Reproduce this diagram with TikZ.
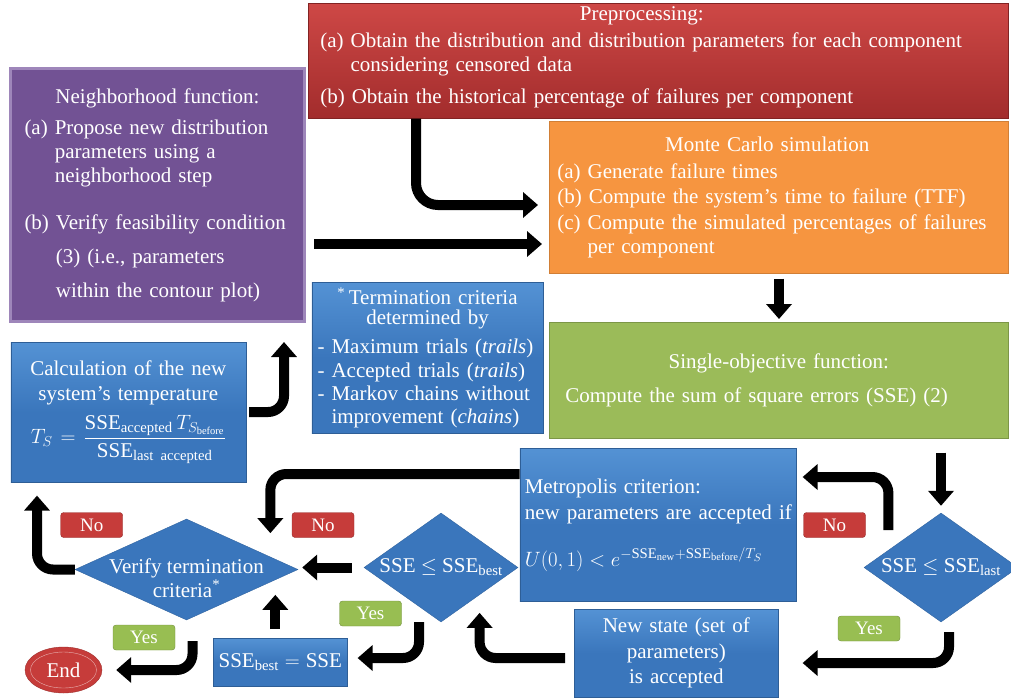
\documentclass[tikz,border=0pt]{standalone}
\usepackage{amsmath}
\usepackage{fontspec}
\setmainfont{Liberation Serif}
\usetikzlibrary{positioning, arrows.meta, shapes.geometric}
\definecolor{preRedTop}{RGB}{206,72,70}
\definecolor{preRedBot}{RGB}{162,44,44}
\definecolor{nbPurple}{RGB}{114,82,148}
\definecolor{nbPurpleEdge}{RGB}{158,134,186}
\definecolor{mcOrange}{RGB}{246,149,64}
\definecolor{objGreen}{RGB}{155,187,89}
\definecolor{stepBlue}{RGB}{58,118,188}
\definecolor{stepBlueTop}{RGB}{84,146,212}
\definecolor{noRed}{RGB}{198,60,58}
\definecolor{yesGreen}{RGB}{152,190,82}
\newcommand{\bodyfont}{\fontsize{21}{23.5}\selectfont}
\newcommand{\tagfont}{\fontsize{19}{21}\selectfont}
\tikzset{%
	stage/.style = {anchor = north west, text = white, align = left, inner ysep = 0pt, font = \bodyfont},
	prebox/.style = {stage, top color = preRedTop, bottom color = preRedBot, draw = preRedBot!80!black, line width = 0.6pt},
	nbbox/.style = {stage, fill = nbPurple, draw = nbPurpleEdge, line width = 3pt},
	mcbox/.style = {stage, fill = mcOrange, draw = mcOrange!85!black, line width = 0.6pt},
	objbox/.style = {stage, fill = objGreen, draw = objGreen!80!black, line width = 0.6pt},
	bluebox/.style = {stage, top color = stepBlueTop, bottom color = stepBlue, middle color = stepBlue, draw = stepBlue!80!black, line width = 0.6pt},
	dia/.style = {diamond, fill = stepBlue, draw = stepBlue!85!black, text = white, align = center, font = \bodyfont, inner xsep = -45pt, inner ysep = -25pt},
	tag/.style = {rounded corners = 3pt, minimum width = 62pt, minimum height = 25pt, inner sep = 0pt, text = white, font = \tagfont},
	notag/.style = {tag, fill = noRed, draw = noRed!75!black},
	yestag/.style = {tag, fill = yesGreen, draw = yesGreen!75!black},
	flow/.style = {line width = 10pt, rounded corners = 16pt, -{Triangle[length = 15pt, width = 25pt]}}
}

\begin{document}
\begin{tikzpicture}[x = 1pt, y = -1pt]
	\useasboundingbox (0,0) rectangle (1011,699);
	% boxes
	\node [prebox, minimum width = 700pt, minimum height = 115pt, text width = 676pt, inner xsep = 12pt] (pre) at (308,3) {\makebox[643pt]{Preprocessing:}\\[3.5pt]
		(a) Obtain the distribution and distribution parameters for each component\\
		\phantom{(a) }considering censored data\\[8.5pt]
		(b) Obtain the historical percentage of failures per component\rule[-12pt]{0pt}{0pt}};
	\node [nbbox, minimum width = 294pt, minimum height = 253pt, text width = 266pt, inner xsep = 14pt] (neigh) at (9,67) {\makebox[\linewidth]{Neighborhood function:}\\[8pt]
		(a) Propose new distribution\\
		\phantom{(a) }parameters using a\\[1pt]
		\phantom{(a) }neighborhood step\\[23pt]
		(b) Verify feasibility condition\\[11pt]
		\phantom{(b) }(3) (i.e., parameters\\[10pt]
		\phantom{(b) }within the contour plot)};
	\node [mcbox, minimum width = 459pt, minimum height = 152pt, text width = 443pt, inner xsep = 8pt] (mc) at (549,121) {\makebox[420pt]{Monte Carlo simulation}\\[3.5pt]
		(a) Generate failure times\\[1.5pt]
		(b) Compute the system’s time to failure (TTF)\\[2.5pt]
		(c) Compute the simulated percentages of failures\\[0.5pt]
		\phantom{(c) }per component};
	\node [bluebox, minimum width = 231.5pt, minimum height = 151pt, text width = 220pt, inner xsep = 5.75pt] (crit) at (311.5,282) {\makebox[\linewidth]{\textsuperscript{*}\,Termination criteria}\\[-3.5pt]
		\makebox[\linewidth]{determined by}\\[5.5pt]
		- Maximum trials (\textit{trails})\\
		- Accepted trials (\textit{trails})\\
		- Markov chains without\\[-1pt]
		\phantom{- }improvement (\textit{chains})};
	\node [objbox, minimum width = 459pt, minimum height = 116pt, text width = 427pt, inner xsep = 16pt] (obj) at (549,322) {\makebox[\linewidth]{Single-objective function:}\\[10.5pt]
		Compute the sum of square errors (SSE) (2)};
	\node [bluebox, align = center, minimum width = 235pt, minimum height = 140pt, text width = 227pt, inner xsep = 4pt] (calc) at (10.5,342) {Calculation of the new\\[1.5pt]
		system’s temperature\\[9pt]
		$\displaystyle T_S = \frac{\text{SSE}_{\text{accepted}}\,T_{S_{\text{before}}}}{\text{SSE}_{\text{last accepted}}}$};
	\node [bluebox, minimum width = 276.5pt, minimum height = 153pt, text width = 266.5pt, inner xsep = 5pt] (metro) at (519.5,448) {Metropolis criterion:\\[2.5pt]
		\mbox{new parameters are accepted if}\\[23.5pt]
		$U(0,1) < e^{-\text{SSE}_{\text{new}}+\text{SSE}_{\text{before}}/T_S}$};
	\node [bluebox, align = center, minimum width = 204pt, minimum height = 88pt, text width = 196pt, inner xsep = 4pt] (newst) at (574,609) {New state (set of\\[2.5pt]
		parameters)\\[1.5pt]
		is accepted};
	\node [bluebox, align = center, minimum width = 134pt, minimum height = 48pt, text width = 126pt, inner xsep = 4pt] (best) at (213,638) {$\text{SSE}_{\text{best}} = \text{SSE}$};
	% decisions
	\node [dia, minimum width = 223pt, minimum height = 101pt] (verD) at (186.5,569.5) {\rule{0pt}{32pt}Verify termination\\criteria\textsuperscript{*}};
	\node [dia, minimum width = 154pt, minimum height = 109pt] (bestD) at (441,567.5) {SSE $\leq$ SSE$_{\text{best}}$};
	\node [dia, minimum width = 154pt, minimum height = 109pt] (lastD) at (941,567.5) {SSE $\leq$ SSE$_{\text{last}}$};
	\node [ellipse, minimum width = 77pt, minimum height = 46pt, fill = noRed, draw = noRed!80!black, text = white, font = \bodyfont] (endN) at (63.5,670) {End};
	\draw [white!60!noRed, thin] (endN.center) ellipse [x radius = 33, y radius = 18];
	% yes / no tags
	\node [notag] (noVer) at (91.7,525) {No};
	\node [notag] (noMet) at (323,525) {No};
	\node [notag] (noLast) at (834.5,525) {No};
	\node [yestag] (yesVer) at (144,637.5) {Yes};
	\node [yestag] (yesBest) at (370.5,613.5) {Yes};
	\node [yestag] (yesLast) at (869,628.5) {Yes};
	\coordinate (critIn) at (284,342);
	% arrows
	\draw [flow, rounded corners = 22pt, shorten > = 11pt] (pre.south -| 416,0) |- (mc.west |- 0,205);
	\draw [flow, shorten < = 8pt, shorten > = 7pt] (neigh.east |- 0,244) -- (mc.west |- 0,244);
	\draw [flow, shorten < = 5pt, shorten > = 3pt] (mc.south -| 779,0) -- (obj.north -| 779,0);
	\draw [flow, shorten < = 14pt, shorten > = 7pt] (obj.south -| lastD.north) -- (lastD.north);
	\draw [flow, shorten < = 10pt, shorten > = 6pt] ([xshift = -14pt]lastD.north west) |- (metro.east |- 0,477);
	\draw [flow, shorten < = 10pt, shorten > = 24pt] ([xshift = 8pt]lastD.south) |- (newst.east |- 0,663);
	\draw [flow, shorten < = 9pt, shorten > = 18pt] (newst.west |- 0,658) -| (bestD.south east);
	\draw [flow, shorten < = 12pt, shorten > = 4pt] (bestD.west) -- (verD.east |- bestD.west);
	\draw [flow, shorten > = 10pt] ([xshift = -22pt]bestD.south) |- (best.east |- 0,658);
	\draw [flow, shorten < = 9pt] ([xshift = -5pt]best.north) -- ([xshift = -5pt]best.north |- verD.south east);
	\draw [flow, shorten > = 11pt] (metro.west |- 0,474) -| ([xshift = 28pt]verD.north east);
	\draw [flow, shorten > = 13pt] (verD.west) -| ([xshift = 26.5pt]calc.south west);
	\draw [flow, shorten < = 21pt, shorten > = 14pt] ([xshift = 6pt]verD.south) |- (endN.east);
	\draw [flow, shorten < = 3pt] (calc.east |- 0,412) -| (critIn);
\end{tikzpicture}
\end{document}
